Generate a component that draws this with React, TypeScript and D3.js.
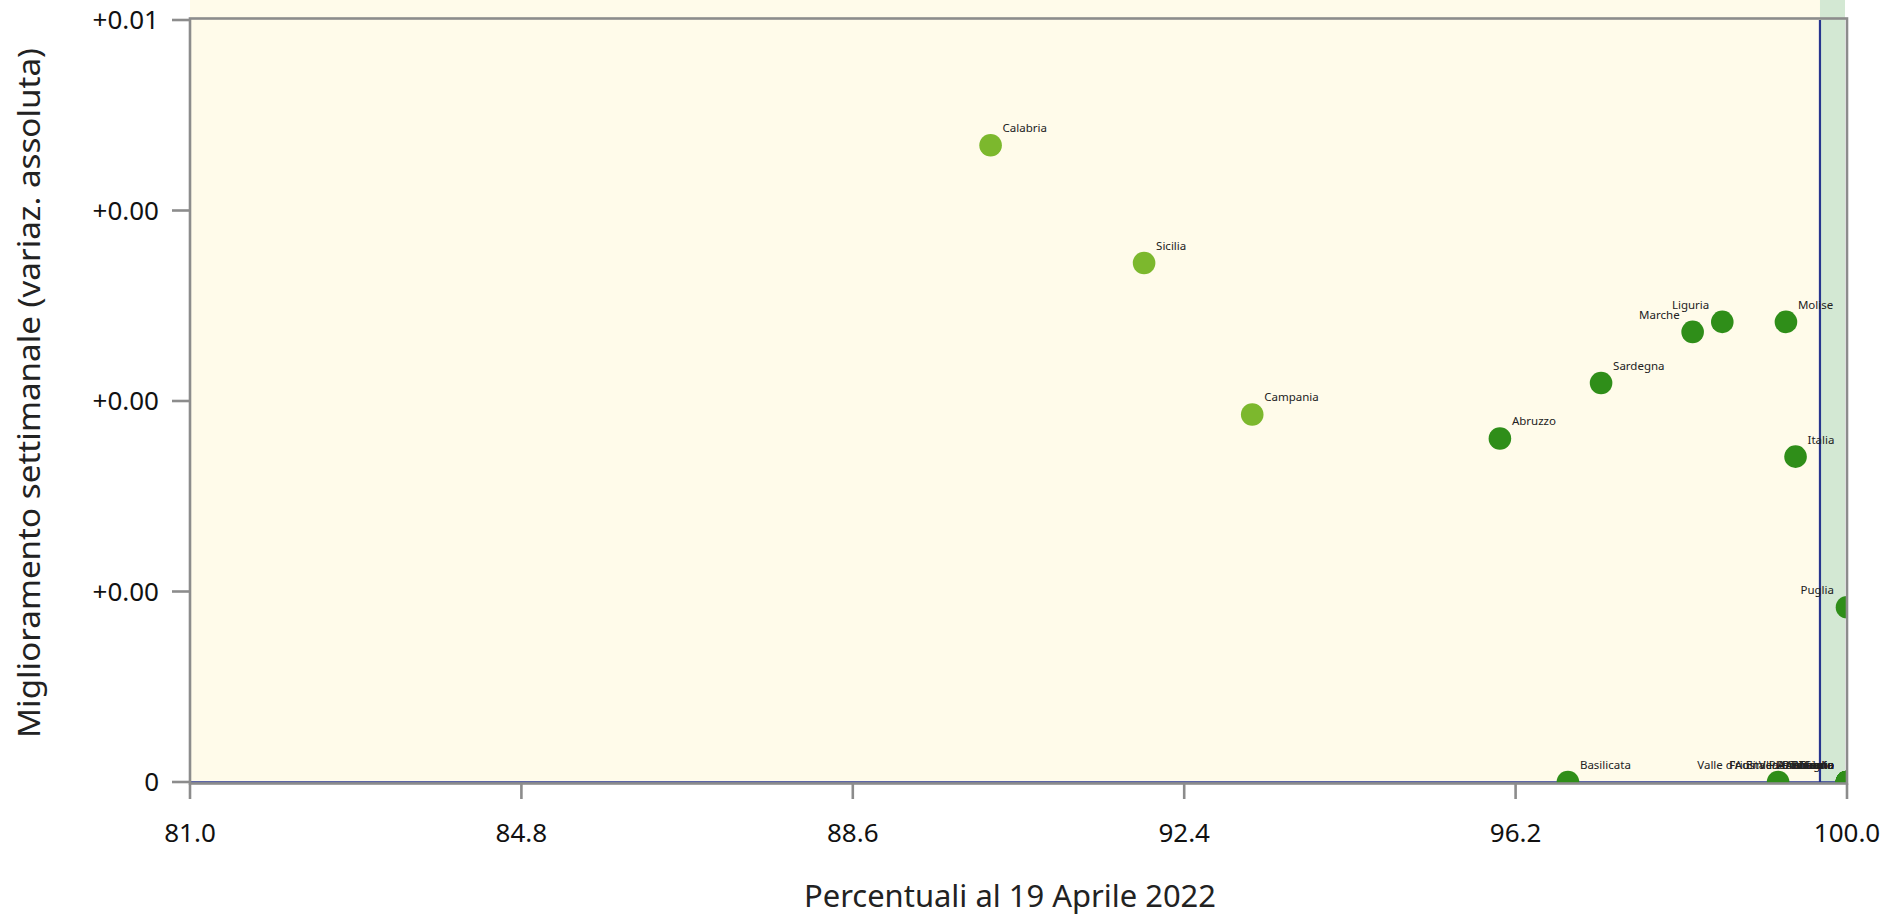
import React from "react";
import * as d3 from "d3";

const regions = [
  "Calabria", "Sicilia", "Campania", "Abruzzo", "Basilicata", "Sardegna",
  "Marche", "Liguria", "Molise", "Italia", "Puglia", "Valle d'Aosta",
  "Friuli Venezia Giulia", "Emilia-Romagna", "Piemonte", "Lombardia",
  "Veneto", "Toscana", "Lazio", "Umbria", "P.A. Trento", "P.A. Bolzano",
];
const xValues = [
  90.18, 91.94, 93.18, 96.02, 96.80, 97.18,
  98.23, 98.57, 99.30, 99.41, 100.0, 99.21,
  100.0, 100.0, 100.0, 100.0,
  100.0, 100.0, 100.0, 100.0, 100.0, 100.0,
];
const yValues = [
  0.005014, 0.004087, 0.002894, 0.002705, 0.0, 0.003142,
  0.003544, 0.003623, 0.003623, 0.002562, 0.001376, 0.0,
  0.0, 0.0, 0.0, 0.0,
  0.0, 0.0, 0.0, 0.0, 0.0, 0.0,
];
const band = [
  "low", "low", "low", "high", "high", "high",
  "high", "high", "high", "high", "high", "high",
  "high", "high", "high", "high",
  "high", "high", "high", "high", "high", "high",
];
const leftLabels = [
  "Marche", "Liguria", "Puglia", "Valle d'Aosta",
  "Friuli Venezia Giulia", "Emilia-Romagna", "Piemonte", "Lombardia",
  "Veneto", "Toscana", "Lazio", "Umbria", "P.A. Trento", "P.A. Bolzano",
];
const xTicks = [81.0, 84.8, 88.6, 92.4, 96.2, 100.0];
const yTicks = [0, 0.0015, 0.003, 0.0045, 0.006];
const yTickLabels = ["0", "+0.00", "+0.00", "+0.00", "+0.01"];
const targetX = 99.69;
const xTitle = "Percentuali al 19 Aprile 2022";
const yTitle = "Miglioramento settimanale (variaz. assoluta)";

const W = 1885;
const H = 916;
const left = 190;
const right = 1847;
const top = 20;
const bottom = 782;

const FONT = "'Noto Sans', 'Open Sans', sans-serif";
const GRAY = "#8c8c8c";
const BLUE = "#27358f";
const colorOf: Record<string, string> = { low: "#7cb82d", high: "#2f8e19" };

export default function App() {
  const x = d3.scaleLinear().domain([81, 100]).range([left, right]);
  const y = d3.scaleLinear().domain([0, 0.006]).range([bottom, top]);
  const tx = x(targetX);

  return (
    <div style={{ position: "fixed", left: 0, top: 0 }}>
      <svg width={W} height={H} style={{ display: "block", fontFamily: FONT }}>
        <defs>
          <clipPath id="plotClip">
            <rect x={left} y={top - 2} width={right - left} height={bottom - top + 3} />
          </clipPath>
        </defs>
        <rect x={0} y={0} width={W} height={H} fill="#ffffff" />
        {/* backgrounds */}
        <rect x={left} y={0} width={tx - left} height={bottom + 1} fill="#fffbea" />
        <rect x={tx} y={0} width={right - 2 - tx} height={bottom + 1} fill="#d3e8d3" />

        {/* reference lines */}
        <line x1={tx} x2={tx} y1={top} y2={bottom} stroke={BLUE} strokeWidth={2.2} />
        <line x1={left} x2={right} y1={y(0)} y2={y(0)} stroke={BLUE} strokeWidth={1.6} />

        {/* points */}
        <g clipPath="url(#plotClip)">
          {regions.map((r, i) => (
            <circle key={r} cx={x(xValues[i])} cy={y(yValues[i])} r={11.3} fill={colorOf[band[i]]} />
          ))}
        </g>

        {/* frame */}
        <rect x={left} y={top - 1.5} width={right - left} height={bottom + 1.5 - top + 1.5}
          fill="none" stroke={GRAY} strokeWidth={2.6} />

        {/* y ticks */}
        {yTicks.map((t, i) => (
          <g key={"y" + i}>
            <line x1={left - 18} x2={left} y1={y(t)} y2={y(t)} stroke={GRAY} strokeWidth={2.6} />
            <text x={159} y={y(t)} dy="0.35em" textAnchor="end" fontSize={26} fill="#111">
              {yTickLabels[i]}
            </text>
          </g>
        ))}

        {/* x ticks */}
        {xTicks.map((t, i) => (
          <g key={"x" + i}>
            <line x1={x(t)} x2={x(t)} y1={bottom + 1.5} y2={bottom + 17} stroke={GRAY} strokeWidth={2.6} />
            <text x={x(t)} y={842} textAnchor="middle" fontSize={26} fill="#111">
              {d3.format(".1f")(t)}
            </text>
          </g>
        ))}

        {/* labels */}
        {regions.map((r, i) => {
          const isLeft = leftLabels.includes(r);
          return (
            <text key={"l" + r}
              x={x(xValues[i]) + (isLeft ? -13 : 12)}
              y={y(yValues[i]) - 13}
              textAnchor={isLeft ? "end" : "start"}
              fontSize={11.5} fill="#222">
              {r}
            </text>
          );
        })}

        {/* titles */}
        <text x={1010} y={907} textAnchor="middle" fontSize={30} fill="#222"
          textLength={412} lengthAdjust="spacingAndGlyphs">
          {xTitle}
        </text>
        <text transform={`translate(40, 393) rotate(-90)`} textAnchor="middle"
          fontSize={30} fill="#222" textLength={690} lengthAdjust="spacingAndGlyphs">
          {yTitle}
        </text>
      </svg>
    </div>
  );
}
